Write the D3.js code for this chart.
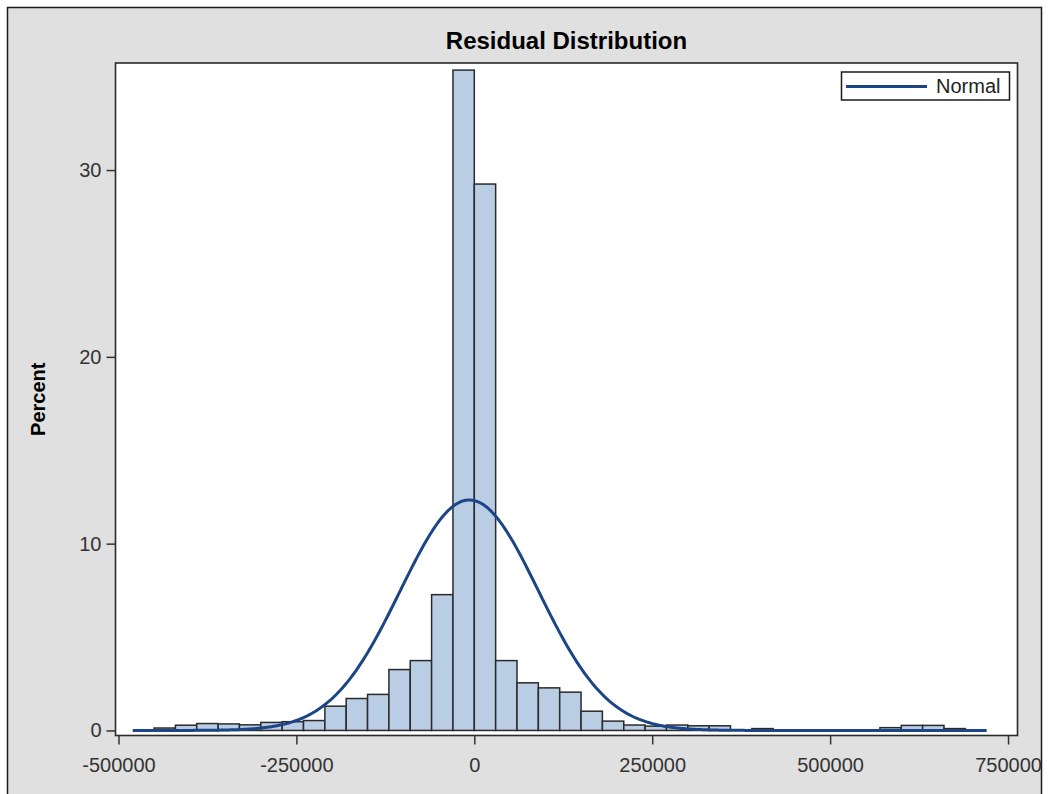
<!DOCTYPE html>
<html>
<head>
<meta charset="utf-8">
<script src="https://cdn.jsdelivr.net/npm/d3@7"></script>
<style>
  html, body { margin: 0; padding: 0; background: #ffffff; }
  svg { display: block; }
  text { font-family: "Liberation Sans", Arial, "DejaVu Sans", sans-serif; }
</style>
</head>
<body>
<svg id="chart" width="1049" height="794"></svg>
<script>
// ---- data ----
const binWidth = 30000;
const binStarts = [
  -450000, -420000, -390000, -360000, -330000, -300000, -270000, -240000,
  -210000, -180000, -150000, -120000, -90000, -60000, -30000, 0,
  30000, 60000, 90000, 120000, 150000, 180000, 210000, 240000,
  270000, 300000, 330000, 360000, 390000, 420000, 450000, 480000,
  510000, 540000, 570000, 600000, 630000, 660000
];
const binPercents = [
  0.13, 0.28, 0.37, 0.35, 0.30, 0.43, 0.47, 0.53,
  1.30, 1.71, 1.93, 3.26, 3.74, 7.27, 35.35, 29.25,
  3.74, 2.55, 2.28, 2.05, 1.03, 0.50, 0.29, 0.23,
  0.29, 0.25, 0.25, 0.00, 0.10, 0.00, 0.00, 0.00,
  0.00, 0.00, 0.15, 0.27, 0.27, 0.10
];
// fitted normal curve parameters
const normalMu = -7000;
const normalSigma = 97000;
const normalRange = [-480000, 720000];

const xTicks = [-500000, -250000, 0, 250000, 500000, 750000];
const yTicks = [0, 10, 20, 30];
const xDomain = [-504200, 763300];
const yDomain = [-0.27, 35.73];

const titleText = "Residual Distribution";
const yLabelText = "Percent";
const legendLabel = "Normal";

// ---- layout ----
const W = 1049, H = 794;
const plot = { left: 115.5, top: 63, right: 1017.5, bottom: 735.5 };

const svg = d3.select("#chart");

// background + outer frame
svg.append("rect").attr("x", 0).attr("y", 0).attr("width", W).attr("height", H).attr("fill", "#ffffff");
svg.append("rect").attr("x", 7.5).attr("y", 7.5).attr("width", 1034).attr("height", 800)
  .attr("fill", "#e0e0e0").attr("stroke", "#1a1a1a").attr("stroke-width", 1.5);

// plot area
svg.append("rect").attr("x", plot.left).attr("y", plot.top)
  .attr("width", plot.right - plot.left).attr("height", plot.bottom - plot.top)
  .attr("fill", "#ffffff");

const x = d3.scaleLinear().domain(xDomain).range([plot.left, plot.right]);
const y = d3.scaleLinear().domain(yDomain).range([plot.bottom, plot.top]);

// bars
const bins = binStarts.map((s, i) => ({ x0: s, x1: s + binWidth, v: binPercents[i] }));
svg.append("g").selectAll("rect").data(bins.filter(d => d.v > 0)).join("rect")
  .attr("x", d => x(d.x0))
  .attr("y", d => y(d.v))
  .attr("width", d => x(d.x1) - x(d.x0))
  .attr("height", d => y(0) - y(d.v))
  .attr("fill", "#b9cde5")
  .attr("stroke", "#2a2a2a")
  .attr("stroke-width", 1.5);

// normal curve
const nPts = 400;
const curvePts = d3.range(nPts + 1).map(i => {
  const v = normalRange[0] + (normalRange[1] - normalRange[0]) * i / nPts;
  const z = (v - normalMu) / normalSigma;
  const dens = 100 * binWidth * Math.exp(-0.5 * z * z) / (normalSigma * Math.sqrt(2 * Math.PI));
  return [v, dens];
});
svg.append("path").datum(curvePts)
  .attr("fill", "none")
  .attr("stroke", "#1c4587")
  .attr("stroke-width", 3)
  .attr("stroke-linejoin", "round")
  .attr("d", d3.line().x(d => x(d[0])).y(d => y(d[1])).curve(d3.curveLinear));

// plot frame
svg.append("rect").attr("x", plot.left).attr("y", plot.top)
  .attr("width", plot.right - plot.left).attr("height", plot.bottom - plot.top)
  .attr("fill", "none").attr("stroke", "#2a2a2a").attr("stroke-width", 1.6);

// axes
const plainFmt = d => String(d);
const xAxis = svg.append("g").attr("transform", `translate(0,${plot.bottom})`)
  .call(d3.axisBottom(x).tickValues(xTicks).tickFormat(plainFmt).tickSize(9).tickPadding(13));
const yAxis = svg.append("g").attr("transform", `translate(${plot.left},0)`)
  .call(d3.axisLeft(y).tickValues(yTicks).tickFormat(plainFmt).tickSize(9).tickPadding(5));
[xAxis, yAxis].forEach(g => {
  g.select(".domain").remove();
  g.selectAll(".tick line").attr("stroke", "#333").attr("stroke-width", 1.5);
  g.selectAll(".tick text").attr("fill", "#333").style("font-size", "20px")
    .style("font-family", '"Liberation Sans", Arial, sans-serif');
});

// title
svg.append("text").attr("x", (plot.left + plot.right) / 2).attr("y", 49)
  .attr("text-anchor", "middle").attr("fill", "#000")
  .style("font-size", "24px").style("font-weight", "bold").text(titleText);

// y label
svg.append("text")
  .attr("transform", `translate(45,${(plot.top + plot.bottom) / 2}) rotate(-90)`)
  .attr("text-anchor", "middle").attr("fill", "#000")
  .style("font-size", "20px").style("font-weight", "bold").text(yLabelText);

// legend
const lg = svg.append("g");
lg.append("rect").attr("x", 841.5).attr("y", 72).attr("width", 168).attr("height", 28)
  .attr("fill", "#ffffff").attr("stroke", "#1a1a1a").attr("stroke-width", 1.5);
lg.append("line").attr("x1", 846).attr("x2", 927).attr("y1", 86.5).attr("y2", 86.5)
  .attr("stroke", "#1c4587").attr("stroke-width", 3);
lg.append("text").attr("x", 936).attr("y", 93).attr("fill", "#222")
  .style("font-size", "20px").text(legendLabel);
</script>
</body>
</html>
